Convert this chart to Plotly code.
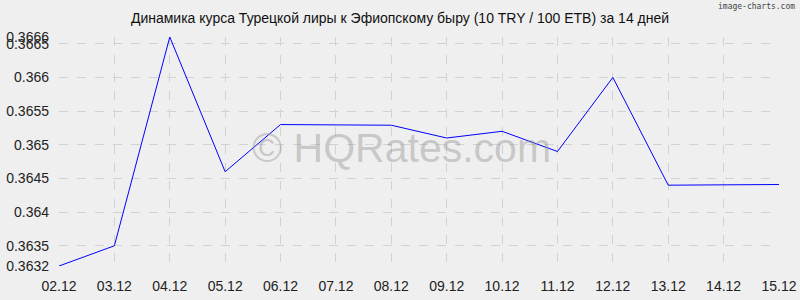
import plotly.graph_objects as go

dates = ["02.12", "03.12", "04.12", "05.12", "06.12", "07.12", "08.12",
         "09.12", "10.12", "11.12", "12.12", "13.12", "14.12", "15.12"]
rates = [0.3632, 0.3635, 0.3666, 0.3646, 0.3653, 0.36529, 0.36529,
         0.3651, 0.3652, 0.3649, 0.3660, 0.3644, 0.36441, 0.36441]
y_ticks = [0.3632, 0.3635, 0.364, 0.3645, 0.365, 0.3655, 0.366, 0.3665, 0.3666]
y_labels = ["0.3632", "0.3635", "0.364", "0.3645", "0.365", "0.3655", "0.366", "0.3665", "0.3666"]

title = "Динамика курса Турецкой лиры к Эфиопскому быру (10 TRY / 100 ETB) за 14 дней"

fig = go.Figure()
fig.add_trace(go.Scatter(x=list(range(len(dates))), y=rates, mode="lines",
                         line=dict(color="#0000ff", width=1), hoverinfo="skip"))

grid = dict(showgrid=True, gridcolor="#d2d2d2", griddash="dash", gridwidth=1,
            zeroline=False, showline=False, ticks="", automargin=False,
            tickfont=dict(family="Liberation Sans, Arial", size=14, color="#222"))

fig.update_layout(
    width=800, height=300,
    margin=dict(l=59, r=21, t=37, b=34),
    paper_bgcolor="#efefef", plot_bgcolor="#efefef",
    showlegend=False,
    title=dict(text=title, x=0.5, xanchor="center", y=0.94, yanchor="middle",
               font=dict(family="Liberation Sans, Arial", size=14, color="#111")),
    xaxis=dict(grid, tickmode="array", tickvals=list(range(len(dates))), ticktext=dates,
               range=[0, len(dates) - 1], ticklabelstandoff=10),
    yaxis=dict(grid, tickmode="array", tickvals=y_ticks, ticktext=y_labels,
               range=[y_ticks[0], y_ticks[-1]], ticklabelstandoff=9),
    annotations=[
        dict(text="© HQRates.com", x=0.5, y=0.5, xref="paper", yref="paper",
             xshift=-18, yshift=4, showarrow=False,
             font=dict(family="Liberation Sans, Arial", size=41, color="rgba(150,150,150,0.45)")),
        dict(text="image-charts.com", x=1, y=1, xref="paper", yref="paper",
             xanchor="right", yanchor="top", xshift=18, yshift=37, showarrow=False,
             font=dict(family="DejaVu Sans Mono", size=8, color="#444")),
    ],
)

fig.write_html("out.html")
